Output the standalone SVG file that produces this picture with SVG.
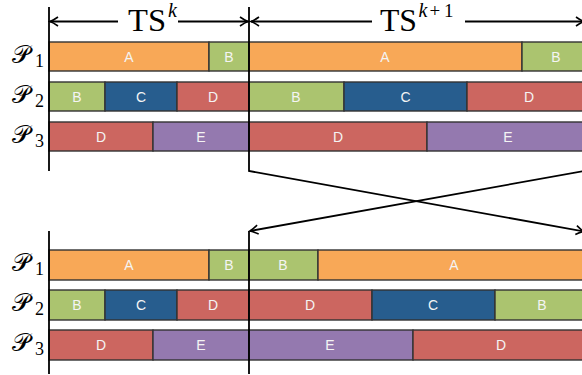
<svg xmlns="http://www.w3.org/2000/svg" width="582" height="375" viewBox="0 0 582 375">
<style>
.seg{stroke:#333;stroke-width:1.4}
.A{fill:#F8A857}.B{fill:#ABC46F}.C{fill:#275D8E}.D{fill:#CC6660}.E{fill:#9479AF}
.lbl{font-family:"Liberation Sans",Arial,sans-serif;font-size:14px;fill:#f4f4f4;text-anchor:middle}
.ax{stroke:#000;stroke-width:1.8;fill:none}
.ts{font-family:"Liberation Serif","Times New Roman",serif;font-size:31px;fill:#000}
.sup{font-family:"Liberation Serif","Times New Roman",serif;font-size:20px;font-style:italic;fill:#000}
.supn{font-family:"Liberation Serif","Times New Roman",serif;font-size:19px;fill:#000}
.pl{font-family:"DejaVu Serif","Liberation Serif",serif;font-size:25px;fill:#000}
.ps{font-family:"Liberation Serif","Times New Roman",serif;font-size:18px;fill:#000}
</style>
<defs>
<marker id="ah" viewBox="-10 -6 12 12" refX="0" refY="0" markerWidth="12" markerHeight="12" orient="auto" markerUnits="userSpaceOnUse">
<path d="M-8,-4.5 Q-3,-1 0,0 Q-3,1 -8,4.5" fill="none" stroke="#000" stroke-width="1.6"/>
</marker>
</defs>

<g id="labels">
<g id="lab-top-p1"><text class="pl" x="12" y="63">𝒫</text><text class="ps" x="35" y="67">1</text></g>
<g id="lab-top-p2"><text class="pl" x="12" y="103">𝒫</text><text class="ps" x="35" y="107">2</text></g>
<g id="lab-top-p3"><text class="pl" x="12" y="143">𝒫</text><text class="ps" x="35" y="147">3</text></g>
<g id="lab-bot-p1"><text class="pl" x="12" y="271">𝒫</text><text class="ps" x="35" y="275">1</text></g>
<g id="lab-bot-p2"><text class="pl" x="12" y="311">𝒫</text><text class="ps" x="35" y="315">2</text></g>
<g id="lab-bot-p3"><text class="pl" x="12" y="351">𝒫</text><text class="ps" x="35" y="355">3</text></g>
</g>

<g id="top-p1">
<rect class="seg A" x="49" y="42" width="160" height="29"/><text class="lbl" x="129" y="61.5">A</text>
<rect class="seg B" x="209" y="42" width="40" height="29"/><text class="lbl" x="229" y="61.5">B</text>
<rect class="seg A" x="249" y="42" width="273" height="29"/><text class="lbl" x="385" y="61.5">A</text>
<rect class="seg B" x="522" y="42" width="62" height="29"/><text class="lbl" x="556" y="61.5">B</text>
</g>
<g id="top-p2">
<rect class="seg B" x="49" y="82" width="56" height="29"/><text class="lbl" x="77" y="101.5">B</text>
<rect class="seg C" x="105" y="82" width="72" height="29"/><text class="lbl" x="141" y="101.5">C</text>
<rect class="seg D" x="177" y="82" width="72" height="29"/><text class="lbl" x="213" y="101.5">D</text>
<rect class="seg B" x="249" y="82" width="95" height="29"/><text class="lbl" x="296" y="101.5">B</text>
<rect class="seg C" x="344" y="82" width="123" height="29"/><text class="lbl" x="405.5" y="101.5">C</text>
<rect class="seg D" x="467" y="82" width="117" height="29"/><text class="lbl" x="529" y="101.5">D</text>
</g>
<g id="top-p3">
<rect class="seg D" x="49" y="122" width="104" height="29"/><text class="lbl" x="101" y="141.5">D</text>
<rect class="seg E" x="153" y="122" width="96" height="29"/><text class="lbl" x="201" y="141.5">E</text>
<rect class="seg D" x="249" y="122" width="178" height="29"/><text class="lbl" x="338" y="141.5">D</text>
<rect class="seg E" x="427" y="122" width="157" height="29"/><text class="lbl" x="508" y="141.5">E</text>
</g>

<g id="bot-p1">
<rect class="seg A" x="49" y="250" width="160" height="30"/><text class="lbl" x="129" y="270">A</text>
<rect class="seg B" x="209" y="250" width="40" height="30"/><text class="lbl" x="229" y="270">B</text>
<rect class="seg B" x="249" y="250" width="69" height="30"/><text class="lbl" x="283" y="270">B</text>
<rect class="seg A" x="318" y="250" width="266" height="30"/><text class="lbl" x="454" y="270">A</text>
</g>
<g id="bot-p2">
<rect class="seg B" x="49" y="290" width="56" height="30"/><text class="lbl" x="77" y="310">B</text>
<rect class="seg C" x="105" y="290" width="72" height="30"/><text class="lbl" x="141" y="310">C</text>
<rect class="seg D" x="177" y="290" width="72" height="30"/><text class="lbl" x="213" y="310">D</text>
<rect class="seg D" x="249" y="290" width="123" height="30"/><text class="lbl" x="310" y="310">D</text>
<rect class="seg C" x="372" y="290" width="123" height="30"/><text class="lbl" x="433" y="310">C</text>
<rect class="seg B" x="495" y="290" width="89" height="30"/><text class="lbl" x="542" y="310">B</text>
</g>
<g id="bot-p3">
<rect class="seg D" x="49" y="330" width="104" height="30"/><text class="lbl" x="101" y="350">D</text>
<rect class="seg E" x="153" y="330" width="96" height="30"/><text class="lbl" x="201" y="350">E</text>
<rect class="seg E" x="249" y="330" width="164" height="30"/><text class="lbl" x="330" y="350">E</text>
<rect class="seg D" x="413" y="330" width="171" height="30"/><text class="lbl" x="501" y="350">D</text>
</g>

<g id="ts-labels">
<g id="ts-k"><text class="ts" x="128" y="30.5" textLength="38" lengthAdjust="spacingAndGlyphs">TS</text><text class="sup" x="168" y="16.5">k</text></g>
<g id="ts-k1"><text class="ts" x="380" y="30.5" textLength="37" lengthAdjust="spacingAndGlyphs">TS</text><text class="sup" x="418.5" y="16.5">k</text><text class="supn" x="429.5" y="16.5">+</text><text class="supn" x="444" y="16.5">1</text></g>
</g>

<g id="connectors">
<line class="ax" x1="49" y1="7" x2="49" y2="171"/>
<line class="ax" x1="49" y1="231" x2="49" y2="374"/>
<polyline class="ax" points="249,7 249,171 584,231.5" marker-end="url(#ah)"/>
<line class="ax" x1="584" y1="171" x2="250" y2="231" marker-end="url(#ah)"/>
<line class="ax" x1="249" y1="231" x2="249" y2="374"/>
<line class="ax" x1="118" y1="21.5" x2="50" y2="21.5" marker-end="url(#ah)"/>
<line class="ax" x1="178" y1="21.5" x2="248" y2="21.5" marker-end="url(#ah)"/>
<line class="ax" x1="372" y1="21.5" x2="251" y2="21.5" marker-end="url(#ah)"/>
<line class="ax" x1="465" y1="21.5" x2="584" y2="21.5" marker-end="url(#ah)"/>
</g>
</svg>
